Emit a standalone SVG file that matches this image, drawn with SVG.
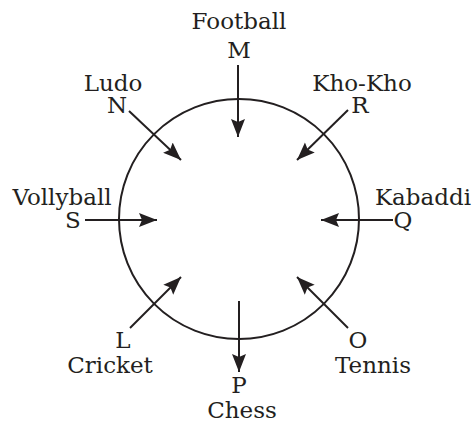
<svg xmlns="http://www.w3.org/2000/svg" width="476" height="428" viewBox="0 0 476 428">
<style>
text{font-family:"DejaVu Serif","Liberation Serif",serif;font-size:23px;fill:#231f20}
.c{text-anchor:middle}
.l{stroke:#231f20;stroke-width:2;fill:none}
</style>
<defs>
<marker id="ah" markerUnits="userSpaceOnUse" markerWidth="20" markerHeight="16" viewBox="0 0 20 16" refX="18" refY="8" orient="auto">
<path d="M0,1 L18,8 L0,15 L3,8 Z" fill="#231f20"/>
</marker>
</defs>
<rect width="476" height="428" fill="#fff"/>
<g id="circle"><circle cx="239" cy="219" r="120" class="l"/></g>
<g id="connectors">
<line x1="238" y1="65" x2="238" y2="137" class="l" marker-end="url(#ah)"/>
<line x1="85" y1="220" x2="157" y2="220" class="l" marker-end="url(#ah)"/>
<line x1="393" y1="220" x2="321" y2="220" class="l" marker-end="url(#ah)"/>
<line x1="239" y1="301" x2="239" y2="372" class="l" marker-end="url(#ah)"/>
<line x1="129" y1="111" x2="181" y2="160" class="l" marker-end="url(#ah)"/>
<line x1="348" y1="110" x2="297" y2="160" class="l" marker-end="url(#ah)"/>
<line x1="130" y1="328" x2="181" y2="277" class="l" marker-end="url(#ah)"/>
<line x1="348" y1="328" x2="297" y2="277" class="l" marker-end="url(#ah)"/>
</g>
<g id="M"><text x="239" y="29" class="c">Football</text><text x="239" y="58" class="c">M</text></g>
<g id="N"><text x="113" y="91" class="c">Ludo</text><text x="117" y="113" class="c">N</text></g>
<g id="R"><text x="362" y="91" class="c">Kho-Kho</text><text x="360" y="113" class="c">R</text></g>
<g id="S"><text x="62" y="205" class="c">Vollyball</text><text x="73" y="228" class="c">S</text></g>
<g id="Q"><text x="423" y="205" class="c">Kabaddi</text><text x="403" y="228" class="c">Q</text></g>
<g id="L"><text x="123" y="348" class="c">L</text><text x="110" y="373" class="c">Cricket</text></g>
<g id="O"><text x="358" y="348" class="c">O</text><text x="373" y="373" class="c">Tennis</text></g>
<g id="P"><text x="239" y="393" class="c">P</text><text x="242" y="418" class="c">Chess</text></g>
</svg>
